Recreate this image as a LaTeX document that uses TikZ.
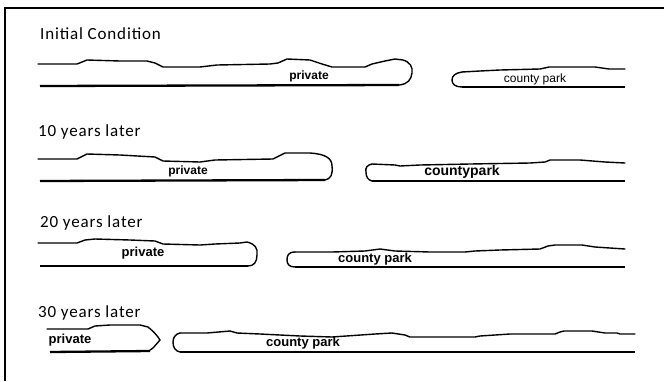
\documentclass[tikz,border=0pt]{standalone}
\usepackage{fontspec}
\setmainfont{Carlito}
\newfontfamily\headfont[LetterSpace=5]{Carlito}
\newfontfamily\arialfont{Liberation Sans}
\begin{document}
\begin{tikzpicture}[x=1pt,y=-1pt,
  frameline/.style={line width=2.2pt},
  edgeline/.style={line width=1.4pt,line join=round,line cap=round},
  baseline/.style={line width=2.3pt},
  heading/.style={anchor=base west,inner sep=0pt,font=\headfont\fontsize{17}{19}\selectfont},
  boldlabel/.style={inner sep=0pt,font=\arialfont\bfseries\fontsize{#1}{#1}\selectfont},
  plainlabel/.style={inner sep=0pt,font=\arialfont\fontsize{#1}{#1}\selectfont}]
\useasboundingbox (0,0) rectangle (664,381);
% frame
\draw[frameline] (5,381) -- (5,8) -- (664,8);

% headings
\node[heading] (h0) at (40,39) {Initial Condition};
\node[heading] (h1) at (38,136) {10 years later};
\node[heading] (h2) at (40,227) {20 years later};
\node[heading] (h3) at (38,317) {30 years later};

% ---- Row 1 ----
\draw[edgeline] (38,64) -- (77,64) -- (87,60) -- (120,61) -- (147,61) -- (155,63) -- (163,67)
  -- (200,67) -- (217,65) -- (270,64) -- (278,63) -- (287,59) -- (310,60) -- (322,64) -- (332,67)
  -- (365,67) -- (372,64) -- (385,61) -- (395,59) -- (403,60)
  .. controls (410,62) and (413,67) .. (412,73) .. controls (411,80) and (408,84) .. (399,85);
\draw[baseline] (40,86) -- (399,85);
\node[boldlabel=12] (p0) at (309,76) {private};

\draw[edgeline] (462,72) .. controls (455,73) and (452,76) .. (452,80)
  .. controls (452,84) and (455,87) .. (462,87);
\draw[edgeline] (462,72) -- (480,71) -- (500,70) -- (540,69) -- (549,67) -- (595,67) -- (609,69) -- (625,69);
\draw[line width=2pt] (462,87) -- (625,87);
\node[plainlabel=12] (c0) at (535,79) {county park};

% ---- Row 2 ----
\draw[edgeline] (38,159) -- (77,159) -- (87,154) -- (120,155) -- (155,157) -- (163,161)
  -- (200,162) -- (215,160) -- (273,159) -- (285,153) -- (310,153)
  .. controls (325,154) and (332,158) .. (332,166) .. controls (333,174) and (331,179) .. (325,180);
\draw[baseline] (40,181) -- (325,180);
\node[boldlabel=12] (p1) at (188,171) {private};

\draw[edgeline] (372,164) .. controls (367,165) and (365,168) .. (366,172)
  .. controls (366,177) and (368,180) .. (372,181);
\draw[edgeline] (372,164) -- (395,165) -- (400,166) -- (420,165) -- (470,164) -- (530,163)
  -- (545,162) -- (550,160) -- (580,160) -- (605,162) -- (625,163);
\draw[line width=2pt] (372,181) -- (625,181);
\node[boldlabel=14] (c1) at (462,172) {countypark};

% ---- Row 3 ----
\draw[edgeline] (38,243) -- (77,243) -- (85,240) -- (95,239) -- (130,240) -- (155,241) -- (163,244)
  -- (200,245) -- (215,244) -- (240,243) -- (247,242)
  .. controls (255,244) and (258,248) .. (257,255) .. controls (257,262) and (254,266) .. (248,266);
\draw[baseline] (40,266) -- (248,266);
\node[boldlabel=13] (p2) at (143,253) {private};

\draw[edgeline] (295,252) .. controls (288,252) and (287,256) .. (287,260)
  .. controls (287,264) and (289,267) .. (295,267);
\draw[edgeline] (295,252) -- (332,252) -- (365,251) -- (380,249) -- (395,251) -- (430,252)
  -- (465,252) -- (475,251) -- (500,250) -- (540,249) -- (548,246) -- (555,245) -- (582,245)
  -- (595,247) -- (610,248) -- (625,249);
\draw[line width=2pt] (295,267) -- (625,267);
\node[boldlabel=13] (c2) at (375,259) {county park};

% ---- Row 4 ----
\draw[edgeline] (47,329) -- (88,329) -- (95,326) -- (110,325) -- (140,325) -- (148,327)
  .. controls (153,331) and (157,335) .. (160,340) -- (153,348) -- (150,350);
\draw[baseline] (50,352) -- (150,351);
\node[boldlabel=13] (p3) at (70,340) {private};

\draw[edgeline] (180,333) .. controls (175,334) and (173,338) .. (173,342)
  .. controls (173,347) and (175,351) .. (180,352);
\draw[edgeline] (180,333) -- (207,333) -- (230,331) -- (237,333) -- (260,334) -- (300,336) -- (332,337)
  -- (375,334) -- (392,333) -- (405,335) -- (410,337) -- (475,337) -- (480,336) -- (510,334)
  -- (555,334) -- (560,332) -- (564,331) -- (592,331) -- (605,333) -- (617,333) -- (620,334) -- (635,334);
\draw[line width=2pt] (180,352) -- (635,352);
\node[boldlabel=13] (c3) at (303,343) {county park};
\end{tikzpicture}
\end{document}
